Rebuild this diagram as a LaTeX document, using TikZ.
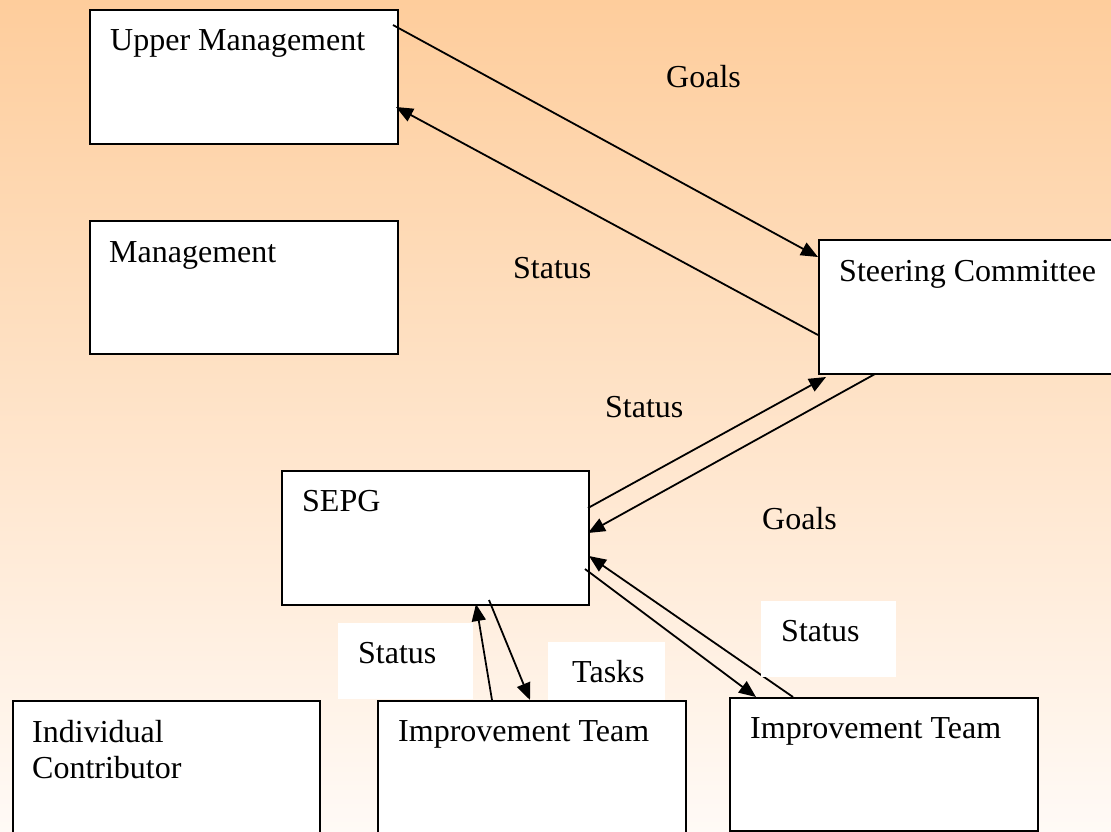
\documentclass[tikz,border=0pt]{standalone}
\usepackage{fontspec}
\setmainfont{Liberation Serif}
\usetikzlibrary{arrows.meta}
\definecolor{peachtop}{RGB}{254,205,156}
\definecolor{peachbot}{RGB}{255,250,246}
\tikzset{
  box/.style={draw=black, fill=white, line width=2pt, inner sep=0pt, anchor=north west},
  tag/.style={fill=white, inner sep=0pt, anchor=north west},
  lbl/.style={inner sep=0pt, anchor=base west, font=\fontsize{32}{36}\selectfont},
  flow/.style={line width=1.8pt, -{Triangle[length=17pt,width=14pt]}},
}
\begin{document}
\begin{tikzpicture}[x=1pt,y=-1pt]
\useasboundingbox (0,0) rectangle (1111,831);
\clip (0,0) rectangle (1111,831);
% background gradient
\fill[top color=peachtop, bottom color=peachbot] (0,0) rectangle (1111,831);

% organisation boxes
\node[box, minimum width=308pt, minimum height=134pt] (um) at (89,9) {};
\node[box, minimum width=308pt, minimum height=133pt] (mg) at (89,220) {};
\node[box, minimum width=310pt, minimum height=134pt] (sc) at (818,239) {};
\node[box, minimum width=307pt, minimum height=134pt] (sepg) at (281,470) {};
\node[box, minimum width=307pt, minimum height=140pt] (ic) at (12,700) {};
\node[box, minimum width=308pt, minimum height=140pt] (it1) at (377,700) {};
\node[box, minimum width=308pt, minimum height=133pt] (it2) at (729,697) {};

% box titles
\node[lbl] (tum) at (110,50) {Upper Management};
\node[lbl] (tmg) at (109,262) {Management};
\node[lbl] (tsc) at (839,281) {Steering Committee};
\node[lbl] (tsepg) at (302,511) {SEPG};
\node[lbl] (tic1) at (32,742) {Individual};
\node[lbl] (tic2) at (32,778) {Contributor};
\node[lbl] (tit1) at (398,741) {Improvement Team};
\node[lbl] (tit2) at (750,738) {Improvement Team};

% end points on the box borders
\coordinate (umA) at (393,25);
\coordinate (umB) at (396,107);
\coordinate (scA) at (818,257);
\coordinate (scB) at (818,335);
\coordinate (scC) at (826,377);
\coordinate (scD) at (875,374);
\coordinate (sepgA) at (588,508);
\coordinate (sepgB) at (588,533);
\coordinate (sepgC) at (589,556);
\coordinate (sepgD) at (585,569);
\coordinate (sepgE) at (476,604);
\coordinate (sepgF) at (489,600);
\coordinate (it1A) at (492,700);
\coordinate (it1B) at (530,700);
\coordinate (it2A) at (793,697);
\coordinate (it2B) at (756,697);

% flows
\draw[flow] (umA) -- (scA);
\draw[flow] (scB) -- (umB);
\draw[flow] (sepgA) -- (scC);
\draw[flow] (scD) -- (sepgB);
\draw[flow] (it2A) -- (sepgC);
\draw[flow] (sepgD) -- (it2B);
\draw[flow] (it1A) -- (sepgE);
\draw[flow] (sepgF) -- (it1B);

% white label patches
\node[tag, minimum width=135pt, minimum height=76pt] (patchL) at (338,623) {};
\node[tag, minimum width=117pt, minimum height=58pt] (patchT) at (548,642) {};
\node[tag, minimum width=135pt, minimum height=76pt] (patchR) at (761,601) {};

% flow labels
\node[lbl] (goals1) at (666,87) {Goals};
\node[lbl] (status1) at (513,278) {Status};
\node[lbl] (status2) at (605,417) {Status};
\node[lbl] (goals2) at (762,529) {Goals};
\node[lbl] (status3) at (358,663) {Status};
\node[lbl] (tasks) at (572,682) {Tasks};
\node[lbl] (status4) at (781,641) {Status};
\end{tikzpicture}
\end{document}
